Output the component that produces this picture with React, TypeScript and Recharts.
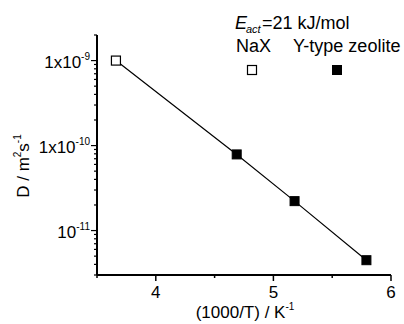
import React from 'react';
import { ComposedChart, XAxis, YAxis, Line, Scatter, Customized } from 'recharts';

const FONT = '"Liberation Sans", Arial, Helvetica, sans-serif';

// Data
const naxPoints = [{ x: 3.661, y: 1.0e-9 }];
const yTypePoints = [
  { x: 4.688, y: 7.87e-11 },
  { x: 5.18, y: 2.22e-11 },
  { x: 5.791, y: 4.48e-12 },
];
const fitLine = [
  { x: 3.661, y: 1.0e-9 },
  { x: 4.688, y: 7.87e-11 },
  { x: 5.18, y: 2.22e-11 },
  { x: 5.791, y: 4.48e-12 },
];

const xMajorTicks = [4, 5, 6];
const xTicks = [3.5, 4, 4.5, 5, 5.5, 6];

const yMajorTicks = [1e-9, 1e-10, 1e-11];
const yTicks = [
  3e-12, 4e-12, 5e-12, 6e-12, 7e-12, 8e-12, 9e-12,
  1e-11, 2e-11, 3e-11, 4e-11, 5e-11, 6e-11, 7e-11, 8e-11, 9e-11,
  1e-10, 2e-10, 3e-10, 4e-10, 5e-10, 6e-10, 7e-10, 8e-10, 9e-10,
  1e-9, 2e-9,
];
const yTickLabels: Record<string, [string, string]> = {
  '1e-9': ['1x10', '-9'],
  '1e-10': ['1x10', '-10'],
  '1e-11': ['10', '-11'],
};

const xLabelMain = '(1000/T) / K';
const xLabelSup = '-1';
const legendTitle = ['E', 'act', '=21 kJ/mol'];
const seriesNames = ['NaX', 'Y-type zeolite'];

const XTick = (props: any) => {
  const { x, y, payload } = props;
  const v = payload.value;
  const major = xMajorTicks.includes(v);
  return (
    <g>
      <line x1={x} x2={x} y1={y} y2={y + (major ? 6 : 3)} stroke="#000" strokeWidth={1.5} />
      {major && (
        <text x={x} y={y + 23} textAnchor="middle" fontSize={17} fontFamily={FONT} fill="#000">
          {v}
        </text>
      )}
    </g>
  );
};

const YTick = (props: any) => {
  const { x, y, payload } = props;
  const v = payload.value;
  const major = yMajorTicks.includes(v);
  const lbl = yTickLabels[String(v)];
  return (
    <g>
      <line x1={x} x2={x - (major ? 6 : 3)} y1={y} y2={y} stroke="#000" strokeWidth={1.2} />
      {major && lbl && (
        <text x={x - 7} y={y + 7} textAnchor="end" fontSize={17} fontFamily={FONT} fill="#000">
          {lbl[0]}
          <tspan fontSize={10} dy={-8}>{lbl[1]}</tspan>
        </text>
      )}
    </g>
  );
};

const OpenSquare = (props: any) => {
  const { cx, cy } = props;
  return <rect x={cx - 4.5} y={cy - 4.5} width={9} height={9} fill="#fff" stroke="#000" strokeWidth={1.2} />;
};
const FilledSquare = (props: any) => {
  const { cx, cy } = props;
  return <rect x={cx - 4.5} y={cy - 4.5} width={9} height={9} fill="#000" stroke="#000" strokeWidth={1} />;
};

const Overlay = () => (
  <g fontFamily={FONT} fill="#000">
    <text x={235} y={29} fontSize={18} fontStyle="italic" textAnchor="start">{legendTitle[0]}</text>
    <text x={246} y={33} fontSize={11} fontStyle="italic" textAnchor="start">{legendTitle[1]}</text>
    <text x={262} y={29} fontSize={18} textAnchor="start">{legendTitle[2]}</text>
    <text x={236} y={52} fontSize={18} textAnchor="start">{seriesNames[0]}</text>
    <text x={293} y={52} fontSize={18} textAnchor="start">{seriesNames[1]}</text>
    <rect x={247.5} y={65.5} width={9} height={9} fill="#fff" stroke="#000" strokeWidth={1.2} />
    <rect x={332.5} y={65.5} width={9} height={9} fill="#000" stroke="#000" strokeWidth={1} />
    <text x={245} y={318} fontSize={17} textAnchor="middle">
      {xLabelMain}
      <tspan fontSize={10} dy={-8}>{xLabelSup}</tspan>
    </text>
    <text x={0} y={0} fontSize={17} textAnchor="middle" transform="translate(29,166) rotate(-90)">
      D / m
      <tspan fontSize={10} dy={-8}>2</tspan>
      <tspan dy={8}>s</tspan>
      <tspan fontSize={10} dy={-8}>-1</tspan>
    </text>
  </g>
);

export default function App() {
  return (
    <div style={{ position: 'absolute', left: 0, top: 0, width: 404, height: 324, background: '#fff' }}>
      <ComposedChart
        width={404}
        height={324}
        margin={{ top: 35, right: 13, bottom: 0, left: 0 }}
      >
        <XAxis
          type="number"
          dataKey="x"
          domain={[3.5, 6]}
          ticks={xTicks}
          interval={0}
          allowDataOverflow
          height={49}
          stroke="#000"
          strokeWidth={2}
          tickLine={false}
          tickSize={0}
          tickMargin={0}
          tick={<XTick />}
        />
        <YAxis
          type="number"
          dataKey="y"
          scale="log"
          domain={[3e-12, 2e-9]}
          ticks={yTicks}
          interval={0}
          allowDataOverflow
          width={97}
          stroke="#000"
          strokeWidth={2}
          tickLine={false}
          tickSize={0}
          tickMargin={0}
          tick={<YTick />}
        />
        <Line
          data={fitLine}
          dataKey="y"
          stroke="#000"
          strokeWidth={1.2}
          dot={false}
          activeDot={false}
          isAnimationActive={false}
          type="linear"
        />
        <Scatter data={naxPoints} dataKey="y" shape={<OpenSquare />} isAnimationActive={false} />
        <Scatter data={yTypePoints} dataKey="y" shape={<FilledSquare />} isAnimationActive={false} />
        <Customized component={Overlay} />
      </ComposedChart>
    </div>
  );
}
